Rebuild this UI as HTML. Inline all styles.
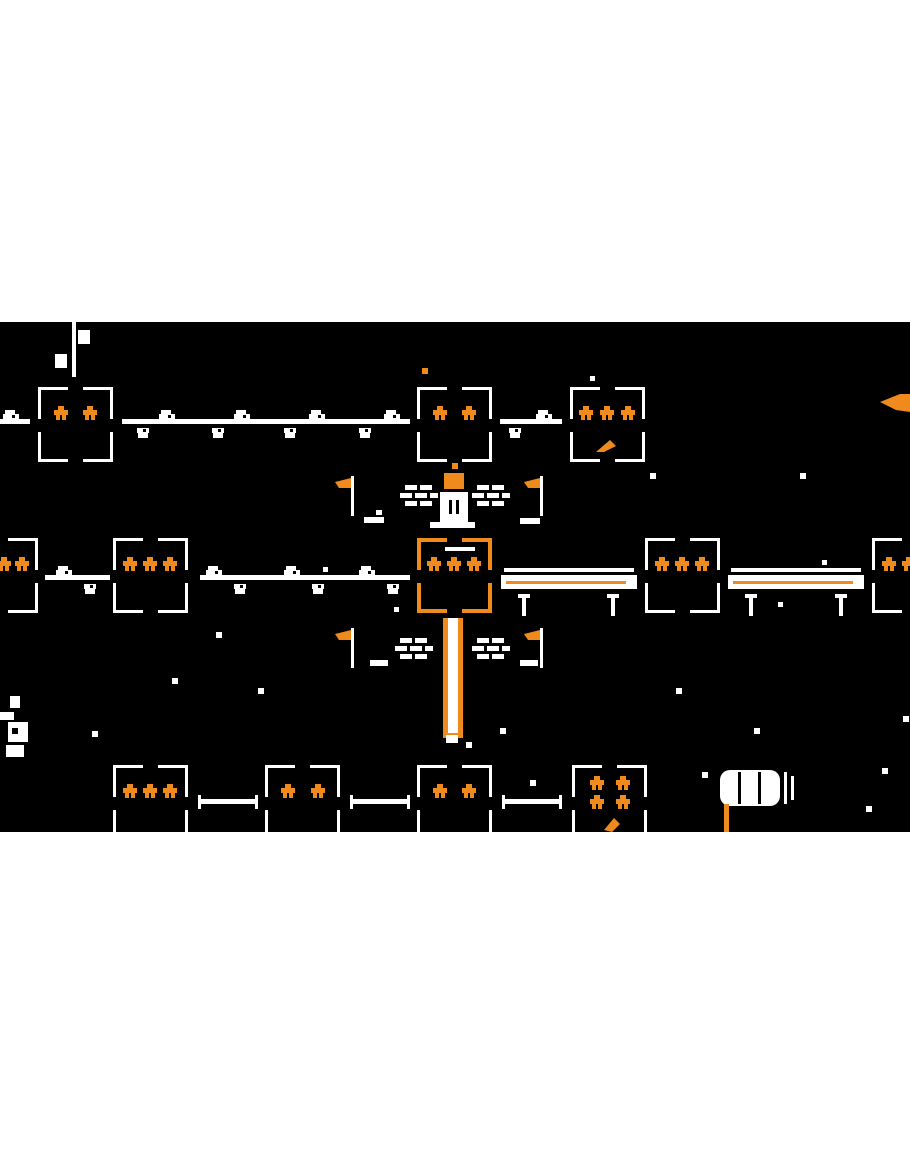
<!DOCTYPE html>
<html><head><meta charset="utf-8"><style>html,body{margin:0;padding:0;background:#fff}svg{display:block}</style></head>
<body>
<svg width="910" height="1155" viewBox="0 0 910 1155" xmlns="http://www.w3.org/2000/svg">
<defs>
<g id="box" fill="#fff">
<rect x="0" y="0" width="3" height="32"/><rect x="0" y="0" width="30" height="3"/>
<rect x="72" y="0" width="3" height="32"/><rect x="45" y="0" width="30" height="3"/>
<rect x="0" y="45" width="3" height="30"/><rect x="0" y="72" width="30" height="3"/>
<rect x="72" y="45" width="3" height="30"/><rect x="45" y="72" width="30" height="3"/>
</g>
<g id="boxo" fill="#f08a1c">
<rect x="0" y="0" width="4" height="32"/><rect x="0" y="0" width="30" height="4"/>
<rect x="71" y="0" width="4" height="32"/><rect x="45" y="0" width="30" height="4"/>
<rect x="0" y="45" width="4" height="30"/><rect x="0" y="71" width="30" height="4"/>
<rect x="71" y="45" width="4" height="30"/><rect x="45" y="71" width="30" height="4"/>
</g>
<g id="st" fill="#f08a1c"><rect x="-3" y="-7" width="6" height="5"/><rect x="-7" y="-3" width="14" height="5"/><rect x="-5" y="2" width="4" height="5"/><rect x="1" y="2" width="4" height="5"/></g>
<g id="lu" fill="#fff"><rect x="-7" y="-12" width="10" height="4"/><rect x="-9" y="-8" width="16" height="6"/><rect x="0" y="-7" width="3" height="3" fill="#000"/></g>
<g id="ld" fill="#fff"><rect x="-6" y="6" width="12" height="5"/><rect x="-5" y="11" width="10" height="5"/><rect x="0" y="7" width="3" height="3" fill="#000"/></g>
<g id="brick" fill="#fff"><rect x="0" y="0" width="12" height="5"/><rect x="15" y="0" width="12" height="5"/><rect x="-5" y="8" width="12" height="5"/><rect x="10" y="8" width="12" height="5"/><rect x="25" y="8" width="8" height="5"/><rect x="0" y="16" width="12" height="5"/><rect x="15" y="16" width="12" height="5"/></g>
<g id="flag"><rect x="16" y="0" width="3" height="40" fill="#fff"/><polygon points="0,6 16,2 16,12 4,12" fill="#f08a1c"/></g>
</defs>
<rect x="0" y="322" width="910" height="510" fill="#000"/>

<!-- row 1 -->
<rect x="0" y="419" width="30" height="5" fill="#fff"/>
<rect x="122" y="419" width="288" height="5" fill="#fff"/>
<rect x="500" y="419" width="62" height="5" fill="#fff"/>
<use href="#lu" x="12" y="422"/><use href="#lu" x="168" y="422"/><use href="#lu" x="243" y="422"/><use href="#lu" x="318" y="422"/><use href="#lu" x="393" y="422"/><use href="#lu" x="545" y="422"/>
<use href="#ld" x="143" y="422"/><use href="#ld" x="218" y="422"/><use href="#ld" x="290" y="422"/><use href="#ld" x="365" y="422"/><use href="#ld" x="515" y="422"/>
<rect x="72" y="322" width="4" height="55" fill="#fff"/><rect x="78" y="330" width="12" height="14" fill="#fff"/><rect x="55" y="354" width="12" height="14" fill="#fff"/>
<use href="#box" x="38" y="387"/><use href="#st" x="61" y="413"/><use href="#st" x="90" y="413"/>
<use href="#box" x="417" y="387"/><use href="#st" x="440" y="413"/><use href="#st" x="469" y="413"/>
<use href="#box" x="570" y="387"/><use href="#st" x="586" y="413"/><use href="#st" x="607" y="413"/><use href="#st" x="628" y="413"/>
<polygon points="596,452 610,440 616,446 604,452" fill="#f08a1c"/>
<rect x="422" y="368" width="6" height="6" fill="#f08a1c"/><rect x="590" y="376" width="5" height="5" fill="#fff"/>
<polygon points="880,402 900,394 910,394 910,412 896,410" fill="#f08a1c"/>

<!-- centre structure -->
<use href="#flag" x="335" y="476"/><use href="#flag" x="524" y="476"/>
<use href="#brick" x="405" y="485"/><use href="#brick" x="477" y="485"/>
<rect x="364" y="517" width="20" height="6" fill="#fff"/><rect x="376" y="510" width="6" height="5" fill="#fff"/><rect x="520" y="518" width="20" height="6" fill="#fff"/>
<rect x="452" y="463" width="6" height="6" fill="#f08a1c"/>
<rect x="444" y="473" width="20" height="16" fill="#f08a1c"/><rect x="440" y="492" width="28" height="30" fill="#fff"/>
<rect x="449" y="500" width="3" height="14" fill="#000"/><rect x="456" y="500" width="3" height="14" fill="#000"/>
<rect x="430" y="522" width="45" height="6" fill="#fff"/><rect x="445" y="547" width="30" height="4" fill="#fff"/>

<use href="#flag" x="335" y="628"/><use href="#flag" x="524" y="628"/>
<use href="#brick" x="400" y="638"/><use href="#brick" x="477" y="638"/>
<rect x="370" y="660" width="18" height="6" fill="#fff"/><rect x="520" y="660" width="18" height="6" fill="#fff"/>

<!-- row 2 -->
<rect x="45" y="575" width="65" height="5" fill="#fff"/>
<rect x="200" y="575" width="210" height="5" fill="#fff"/>
<use href="#lu" x="65" y="578"/><use href="#lu" x="215" y="578"/><use href="#lu" x="293" y="578"/><use href="#lu" x="368" y="578"/>
<use href="#ld" x="90" y="578"/><use href="#ld" x="240" y="578"/><use href="#ld" x="318" y="578"/><use href="#ld" x="393" y="578"/>
<rect x="323" y="567" width="5" height="5" fill="#fff"/>
<use href="#box" x="-37" y="538"/><use href="#st" x="4" y="564"/><use href="#st" x="22" y="564"/>
<use href="#box" x="113" y="538"/><use href="#st" x="130" y="564"/><use href="#st" x="150" y="564"/><use href="#st" x="170" y="564"/>
<use href="#boxo" x="417" y="538"/><use href="#st" x="434" y="564"/><use href="#st" x="454" y="564"/><use href="#st" x="474" y="564"/>
<use href="#box" x="645" y="538"/><use href="#st" x="662" y="564"/><use href="#st" x="682" y="564"/><use href="#st" x="702" y="564"/>
<use href="#box" x="872" y="538"/><use href="#st" x="889" y="564"/><use href="#st" x="909" y="564"/>
<g>
<rect x="504" y="568" width="130" height="4" fill="#fff"/><rect x="501" y="575" width="136" height="14" fill="#fff"/><rect x="506" y="581" width="120" height="3" fill="#f08a1c"/>
<rect x="731" y="568" width="130" height="4" fill="#fff"/><rect x="728" y="575" width="136" height="14" fill="#fff"/><rect x="733" y="581" width="120" height="3" fill="#f08a1c"/>
<rect x="518" y="594" width="12" height="4" fill="#fff"/><rect x="522" y="598" width="4" height="18" fill="#fff"/>
<rect x="607" y="594" width="12" height="4" fill="#fff"/><rect x="611" y="598" width="4" height="18" fill="#fff"/>
<rect x="745" y="594" width="12" height="4" fill="#fff"/><rect x="749" y="598" width="4" height="18" fill="#fff"/>
<rect x="835" y="594" width="12" height="4" fill="#fff"/><rect x="839" y="598" width="4" height="18" fill="#fff"/>
<rect x="822" y="560" width="5" height="5" fill="#fff"/><rect x="778" y="602" width="5" height="5" fill="#fff"/>
</g>

<!-- beam -->
<rect x="443" y="618" width="20" height="120" fill="#f08a1c"/><rect x="448" y="618" width="10" height="115" fill="#fff"/>
<rect x="446" y="735" width="12" height="8" fill="#fff"/>

<!-- stars/dots -->
<g fill="#fff">
<rect x="650" y="473" width="6" height="6"/><rect x="800" y="473" width="6" height="6"/><rect x="216" y="632" width="6" height="6"/>
<rect x="172" y="678" width="6" height="6"/><rect x="258" y="688" width="6" height="6"/><rect x="92" y="731" width="6" height="6"/>
<rect x="676" y="688" width="6" height="6"/><rect x="754" y="728" width="6" height="6"/><rect x="500" y="728" width="6" height="6"/>
<rect x="903" y="716" width="6" height="6"/><rect x="882" y="768" width="6" height="6"/><rect x="866" y="806" width="6" height="6"/>
<rect x="530" y="780" width="6" height="6"/><rect x="702" y="772" width="6" height="6"/><rect x="394" y="607" width="5" height="5"/>
<rect x="466" y="742" width="6" height="6"/>
</g>
<!-- left plant -->
<g fill="#fff"><rect x="10" y="696" width="10" height="12"/><rect x="0" y="712" width="14" height="8"/><rect x="8" y="722" width="20" height="20"/><rect x="6" y="745" width="18" height="12"/></g>
<rect x="12" y="728" width="6" height="6" fill="#000"/>

<!-- row 3 -->
<rect x="198" y="799" width="60" height="5" fill="#fff"/><rect x="198" y="795" width="3" height="14" fill="#fff"/><rect x="255" y="795" width="3" height="14" fill="#fff"/>
<rect x="350" y="799" width="60" height="5" fill="#fff"/><rect x="350" y="795" width="3" height="14" fill="#fff"/><rect x="407" y="795" width="3" height="14" fill="#fff"/>
<rect x="502" y="799" width="60" height="5" fill="#fff"/><rect x="502" y="795" width="3" height="14" fill="#fff"/><rect x="559" y="795" width="3" height="14" fill="#fff"/>
<use href="#box" x="113" y="765"/><use href="#st" x="130" y="791"/><use href="#st" x="150" y="791"/><use href="#st" x="170" y="791"/>
<use href="#box" x="265" y="765"/><use href="#st" x="288" y="791"/><use href="#st" x="318" y="791"/>
<use href="#box" x="417" y="765"/><use href="#st" x="440" y="791"/><use href="#st" x="469" y="791"/>
<use href="#box" x="572" y="765"/><use href="#st" x="597" y="783"/><use href="#st" x="623" y="783"/><use href="#st" x="597" y="802"/><use href="#st" x="623" y="802"/>
<polygon points="604,830 614,818 620,824 612,832" fill="#f08a1c"/>
<!-- barrel -->
<rect x="720" y="770" width="60" height="36" rx="10" fill="#fff"/>
<rect x="738" y="772" width="3" height="32" fill="#000"/><rect x="758" y="772" width="3" height="32" fill="#000"/>
<rect x="784" y="772" width="3" height="32" fill="#fff"/><rect x="791" y="776" width="3" height="24" fill="#fff"/>
<rect x="724" y="804" width="5" height="28" fill="#f08a1c"/>
<rect x="0" y="832" width="910" height="323" fill="#fff"/>
</svg>
</body></html>
